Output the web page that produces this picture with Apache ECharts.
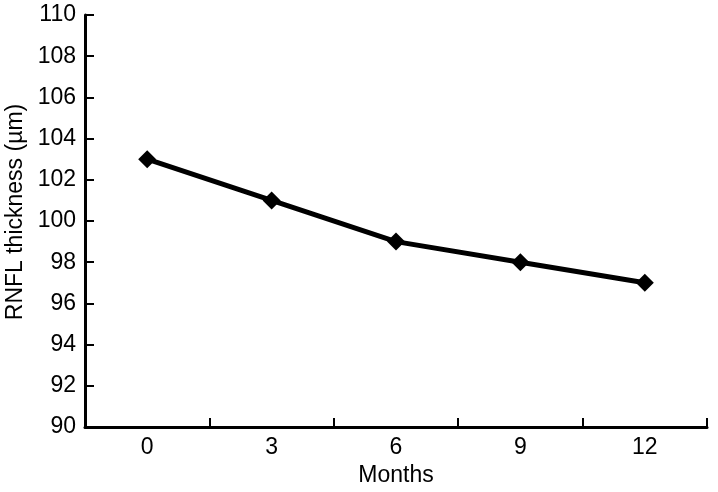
<!DOCTYPE html>
<html><head><meta charset="utf-8">
<script src="https://cdn.jsdelivr.net/npm/echarts@6/dist/echarts.min.js"></script>
<style>html,body{margin:0;padding:0;background:#fff}#c{width:718px;height:492px}</style>
</head><body><div id="c"></div>
<script>
const months = ['0', '3', '6', '9', '12'];
const rnfl = [103, 101, 99, 98, 97];
const yMin = 90, yMax = 110, yStep = 2;

const chart = echarts.init(document.getElementById('c'));
const font = 'Liberation Sans, Arial, sans-serif';
chart.setOption({
  animation: false,
  backgroundColor: '#fff',
  grid: { left: 85, right: 11, top: 15, bottom: 65, containLabel: false, outerBoundsMode: 'none' },
  xAxis: {
    type: 'category', data: months, boundaryGap: true,
    name: 'Months', nameLocation: 'middle', nameGap: 34,
    nameTextStyle: { color: '#000', fontSize: 23, fontFamily: font },
    axisLine: { lineStyle: { color: '#000', width: 3 } },
    axisTick: { show: true, inside: true, length: 9, lineStyle: { color: '#000', width: 2 } },
    axisLabel: { color: '#000', fontSize: 23, fontFamily: font, margin: 9 },
    splitLine: { show: false }
  },
  yAxis: {
    type: 'value', min: yMin, max: yMax, interval: yStep,
    name: 'RNFL thickness (µm)', nameLocation: 'middle', nameGap: 52,
    nameTextStyle: { color: '#000', fontSize: 23, fontFamily: font, padding: [0, 0, 0, 18] },
    axisLine: { show: true, lineStyle: { color: '#000', width: 3 } },
    axisTick: { show: true, inside: true, length: 9, lineStyle: { color: '#000', width: 2 } },
    axisLabel: { color: '#000', fontSize: 23, fontFamily: font, margin: 9 },
    splitLine: { show: false }
  },
  series: [{
    type: 'line', data: rnfl,
    symbol: 'diamond', symbolSize: 18,
    lineStyle: { color: '#000', width: 5 },
    itemStyle: { color: '#000' }
  }]
});
</script></body></html>
